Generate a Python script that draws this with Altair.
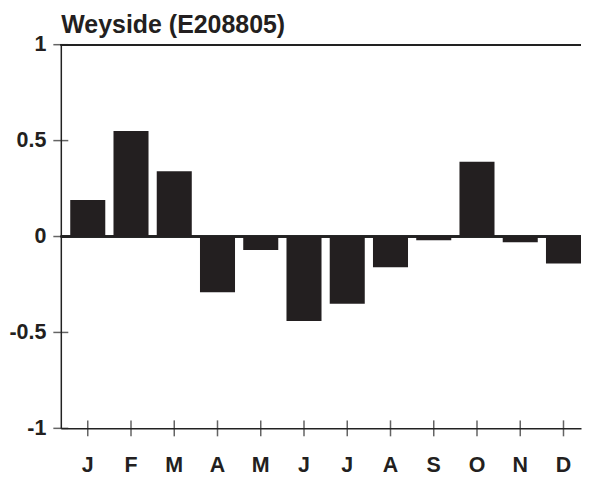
import altair as alt
import pandas as pd

months = ["January", "February", "March", "April", "May", "June",
          "July", "August", "September", "October", "November", "December"]
values = [0.19, 0.55, 0.34, -0.29, -0.07, -0.44, -0.35, -0.16, -0.02, 0.39, -0.03, -0.14]
y_ticks = [-1, -0.5, 0, 0.5, 1]
title = "Weyside (E208805)"

FONT = "Liberation Sans"
INK = "#231f20"
LINE = "#222222"

df = pd.DataFrame({"month": months, "value": values})
ticks_df = pd.DataFrame({"t": y_ticks})

xscale = alt.Scale(domain=months, paddingInner=0.19, paddingOuter=0.109, align=1)
yscale = alt.Scale(domain=[-1, 1], nice=False, zero=False)

xaxis = alt.Axis(title=None, labelExpr="substring(datum.value, 0, 1)", ticks=False,
                 tickSize=0, labelPadding=26, labelAngle=0, labelFontSize=21.5,
                 labelFont=FONT, labelFontWeight="bold", labelColor=INK,
                 domainColor=LINE, domainWidth=1.5, grid=False)
yaxis = alt.Axis(title=None, values=y_ticks, labelExpr="'' + datum.value", ticks=False,
                 tickSize=0, labelPadding=15, labelFontSize=21.5, labelFont=FONT,
                 labelFontWeight="bold", labelColor=INK, domainColor=LINE,
                 domainWidth=1.5, grid=False)

bars = alt.Chart(df).mark_bar(color=INK).encode(
    x=alt.X("month:N", sort=months, scale=xscale, axis=xaxis),
    y=alt.Y("value:Q", scale=yscale, axis=yaxis),
)

zero_rule = alt.Chart(df).mark_rule(color=LINE, strokeWidth=1.5).encode(y=alt.datum(0))
top_rule = alt.Chart(df).mark_rule(color=LINE, strokeWidth=1.5).encode(y=alt.datum(1))

y_tick_marks = alt.Chart(ticks_df).mark_tick(
    orient="horizontal", size=15, thickness=1.5, color=LINE
).encode(y=alt.Y("t:Q", scale=yscale), x=alt.value(0))

x_tick_marks = alt.Chart(df).mark_tick(
    orient="vertical", size=16, thickness=1.5, color=LINE
).encode(x=alt.X("month:N", sort=months, scale=xscale), y=alt.datum(-1))

chart = alt.layer(zero_rule, bars, top_rule, y_tick_marks, x_tick_marks).properties(
    width=522,
    height=385,
    padding={"left": 0, "top": 4, "right": 0, "bottom": 0},
    title=alt.TitleParams(title, anchor="start", frame="group", fontSize=25,
                          font=FONT, fontWeight="bold", color=INK, dx=0.5, offset=-4),
).configure_view(stroke=None)

chart.save("out.html", embed_options={"renderer": "svg", "actions": False})
